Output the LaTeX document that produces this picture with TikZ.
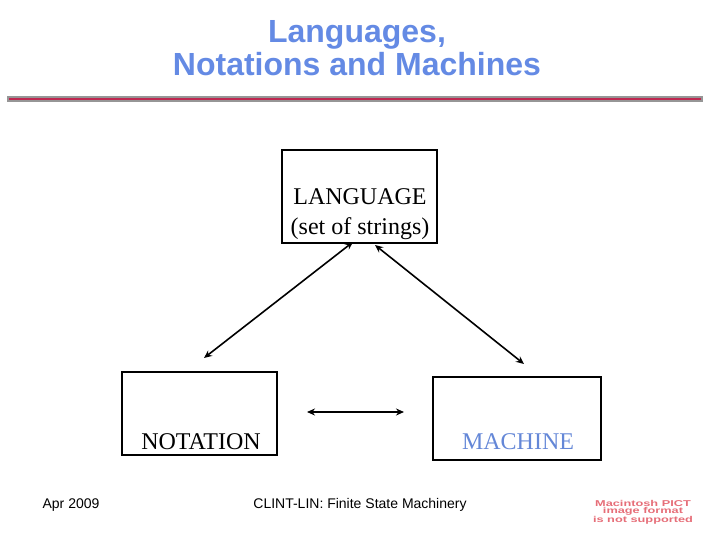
\documentclass[tikz,border=0pt]{standalone}
\usepackage{fontspec}
\setmainfont{Liberation Serif}
\setsansfont{Liberation Sans}
\usetikzlibrary{arrows.meta}
\definecolor{titleblue}{RGB}{100,138,228}
\definecolor{machblue}{RGB}{100,135,215}
\definecolor{rulegray}{RGB}{150,150,150}
\definecolor{rulered}{RGB}{190,40,80}
\definecolor{pictred}{RGB}{230,110,120}
\tikzset{
  box/.style={draw=black, line width=1.6pt, inner sep=0pt},
  boxtext/.style={font=\fontsize{24}{27}\selectfont, anchor=base, inner sep=0pt},
  link/.style={line width=1.6pt, {Stealth[length=8pt,width=7pt]}-{Stealth[length=8pt,width=7pt]}},
  titletext/.style={font=\sffamily\bfseries\fontsize{32}{36}\selectfont, text=titleblue, anchor=base, inner sep=0pt},
  foot/.style={font=\sffamily\fontsize{14}{16}\selectfont, anchor=base, inner sep=0pt},
}
\begin{document}
\begin{tikzpicture}[x=1pt,y=-1pt]
\useasboundingbox (0,0) rectangle (720,540);
% title
\node[titletext] (t1) at (357,43) {Languages,};
\node[titletext] (t2) at (357,76) {Notations and Machines};
% rule
\fill[rulegray] (7,96) rectangle (703,102);
\draw[rulered, line width=1.4pt] (9,99) -- (701,99);
% boxes
\draw[box] (282,150) rectangle (437,243);
\node[boxtext] (lang1) at (360,205) {LANGUAGE};
\node[boxtext] (lang2) at (360,234) {(set of strings)};
\draw[box] (122,372) rectangle (277,455);
\node[boxtext] (nota) at (201,449) {NOTATION};
\draw[box] (433,377) rectangle (601,460);
\node[boxtext, text=machblue] (mach) at (518,449) {MACHINE};
% connectors
\coordinate (la) at (353,242);
\coordinate (lb) at (375,245);
\coordinate (na) at (204,358);
\coordinate (ma) at (524,364);
\coordinate (h1) at (307,412);
\coordinate (h2) at (404,412);
\draw[link] (la) -- (na);
\draw[link] (lb) -- (ma);
\draw[link] (h1) -- (h2);
% footer
\node[foot] (date) at (71,508) {Apr 2009};
\node[foot] (ftitle) at (360,508) {CLINT-LIN: Finite State Machinery};
\node[font=\sffamily\bfseries\fontsize{8.5}{7.2}\selectfont, text=pictred, align=center, xscale=1.5, inner sep=0pt] (pict) at (643,512) {Macintosh PICT\\image format\\is not supported};
\end{tikzpicture}
\end{document}
